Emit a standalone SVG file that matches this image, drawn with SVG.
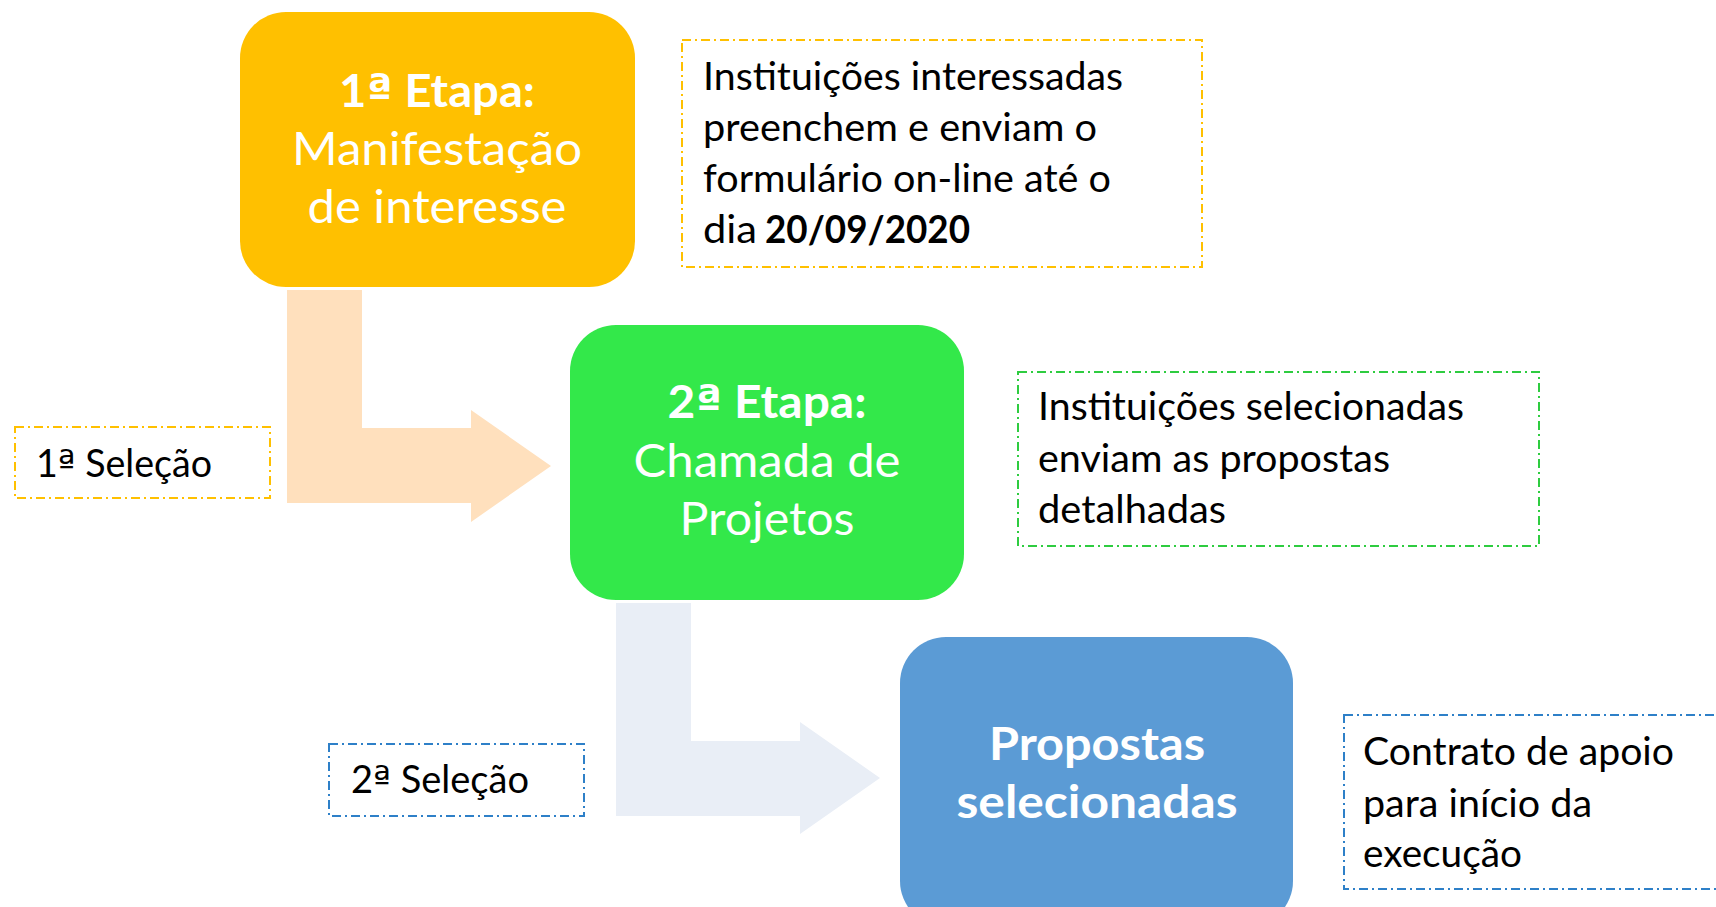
<svg xmlns="http://www.w3.org/2000/svg" width="1716" height="907" viewBox="0 0 1716 907">
<style>
.node{stroke:none}
.t{font-family:Lato,"Open Sans","Liberation Sans",sans-serif;fill:#000;font-size:38px}
.w{font-family:Lato,"Open Sans","Liberation Sans",sans-serif;fill:#fff;font-size:46px;text-anchor:middle}
.b{font-weight:bold}
.o{font-family:"DejaVu Sans",sans-serif}
.dash{fill:none;stroke-width:2;stroke-dasharray:9 4 2 4}
</style>
<rect width="1716" height="907" fill="#fff"/>
<g id="connectors">
<path d="M287,290 H362 V428 H471 V410 L551,466 L471,522 V503 H287 Z" fill="#FFE0BD"/>
<path d="M616,603 H691 V741 H800 V722 L880,778 L800,834 V816 H616 Z" fill="#E9EEF6"/>
</g>
<g id="etapa1">
<rect class="node" x="240" y="12" width="395" height="275" rx="46" fill="#FFC000"/>
<text class="w b" x="437" y="107" textLength="196" lengthAdjust="spacingAndGlyphs">1<tspan class="o">ª</tspan> Etapa:</text>
<text class="w" x="437" y="165" textLength="290" lengthAdjust="spacingAndGlyphs">Manifestação</text>
<text class="w" x="437" y="223" textLength="259" lengthAdjust="spacingAndGlyphs">de interesse</text>
</g>
<g id="nota1">
<rect class="dash" x="682" y="40" width="520" height="227" stroke="#FFC000"/>
<text class="t" x="703" y="90" textLength="420" lengthAdjust="spacingAndGlyphs">Instituições interessadas</text>
<text class="t" x="703" y="141" textLength="394" lengthAdjust="spacingAndGlyphs">preenchem e enviam o</text>
<text class="t" x="703" y="192" textLength="408" lengthAdjust="spacingAndGlyphs">formulário on-line até o</text>
<text class="t" x="703" y="243"><tspan textLength="54" lengthAdjust="spacingAndGlyphs">dia</tspan><tspan class="b" x="765" textLength="205" lengthAdjust="spacingAndGlyphs">20/09/2020</tspan></text>
</g>
<g id="selecao1">
<rect class="dash" x="15" y="427" width="255" height="71" stroke="#FFC000"/>
<text class="t" x="36" y="477" textLength="176" lengthAdjust="spacingAndGlyphs">1<tspan class="o">ª</tspan> Seleção</text>
</g>
<g id="etapa2">
<rect class="node" x="570" y="325" width="394" height="275" rx="46" fill="#33E84A"/>
<text class="w b" x="767" y="418" textLength="199" lengthAdjust="spacingAndGlyphs">2<tspan class="o">ª</tspan> Etapa:</text>
<text class="w" x="767" y="477" textLength="267" lengthAdjust="spacingAndGlyphs">Chamada de</text>
<text class="w" x="767" y="535" textLength="175" lengthAdjust="spacingAndGlyphs">Projetos</text>
</g>
<g id="nota2">
<rect class="dash" x="1018" y="372" width="521" height="174" stroke="#2ECC40"/>
<text class="t" x="1038" y="420" textLength="426" lengthAdjust="spacingAndGlyphs">Instituições selecionadas</text>
<text class="t" x="1038" y="472" textLength="352" lengthAdjust="spacingAndGlyphs">enviam as propostas</text>
<text class="t" x="1038" y="523" textLength="188" lengthAdjust="spacingAndGlyphs">detalhadas</text>
</g>
<g id="selecao2">
<rect class="dash" x="329" y="744" width="255" height="72" stroke="#2E80C8"/>
<text class="t" x="351" y="793" textLength="178" lengthAdjust="spacingAndGlyphs">2<tspan class="o">ª</tspan> Seleção</text>
</g>
<g id="propostas">
<rect class="node" x="900" y="637" width="393" height="290" rx="46" fill="#5B9BD5"/>
<text class="w b" x="1097" y="760" textLength="216" lengthAdjust="spacingAndGlyphs">Propostas</text>
<text class="w b" x="1097" y="818" textLength="281" lengthAdjust="spacingAndGlyphs">selecionadas</text>
</g>
<g id="nota3">
<rect class="dash" x="1344" y="715" width="400" height="174" stroke="#2E80C8"/>
<text class="t" x="1363" y="765" textLength="311" lengthAdjust="spacingAndGlyphs">Contrato de apoio</text>
<text class="t" x="1363" y="817" textLength="229" lengthAdjust="spacingAndGlyphs">para início da</text>
<text class="t" x="1363" y="867" textLength="159" lengthAdjust="spacingAndGlyphs">execução</text>
</g>
</svg>
